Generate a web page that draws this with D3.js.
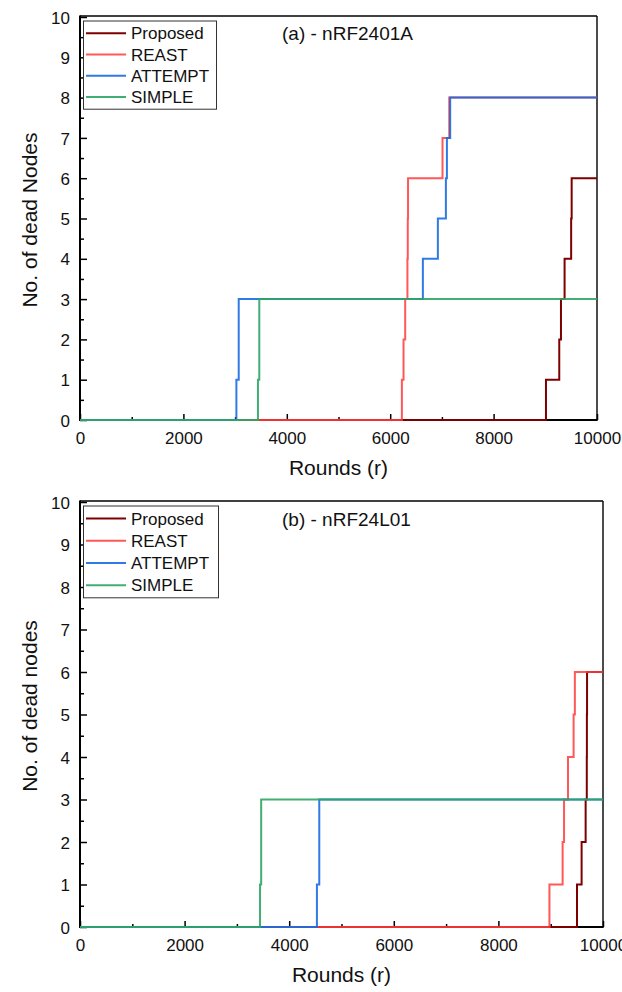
<!DOCTYPE html>
<html>
<head>
<meta charset="utf-8">
<script src="https://cdn.jsdelivr.net/npm/d3@7/dist/d3.min.js"></script>
<style>
  html, body { margin: 0; padding: 0; background: #fff; }
  svg { display: block; font-family: "Liberation Sans", Arial, sans-serif; }
</style>
</head>
<body>
<svg id="chart" width="622" height="992"></svg>
<script>
// Series names and colours (shared by both panels)
const seriesNames = ["Proposed", "REAST", "ATTEMPT", "SIMPLE"];
const seriesColors = ["#7d0000", "#ff3b3b", "#1a6be2", "#2fa564"];
const seriesOpacity = [1, 0.85, 0.9, 0.9];

// Axis ticks
const xTicks = [0, 2000, 4000, 6000, 8000, 10000];
const yTicks = [0, 1, 2, 3, 4, 5, 6, 7, 8, 9, 10];

// Panel (a) nRF2401A: round at which each count of dead nodes is reached
const aProposedRounds = [0, 9013, 9270, 9303, 9373, 9500, 9510, 10000];
const aProposedDead   = [0, 1, 2, 3, 4, 5, 6, 6];
const aReastRounds    = [0, 6226, 6258, 6290, 6333, 6340, 6345, 7012, 7142, 10000];
const aReastDead      = [0, 1, 2, 3, 4, 5, 6, 7, 8, 8];
const aAttemptRounds  = [0, 3025, 3070, 6632, 6922, 7077, 7097, 7160, 10000];
const aAttemptDead    = [0, 1, 3, 4, 5, 6, 7, 8, 8];
const aSimpleRounds   = [0, 3442, 3468, 10000];
const aSimpleDead     = [0, 1, 3, 3];

// Panel (b) nRF24L01
const bProposedRounds = [0, 9503, 9591, 9668, 9690, 9692, 9695, 10000];
const bProposedDead   = [0, 1, 2, 3, 4, 5, 6, 6];
const bReastRounds    = [0, 8976, 9228, 9255, 9331, 9438, 9462, 10000];
const bReastDead      = [0, 1, 2, 3, 4, 5, 6, 6];
const bAttemptRounds  = [0, 4530, 4575, 10000];
const bAttemptDead    = [0, 1, 3, 3];
const bSimpleRounds   = [0, 3442, 3464, 10000];
const bSimpleDead     = [0, 1, 3, 3];

const svg = d3.select("#chart");

function zip(rounds, dead) {
  return rounds.map((r, i) => ({ r: r, d: dead[i] }));
}

function drawPanel(p) {
  const g = svg.append("g");
  const x = d3.scaleLinear().domain([0, 10000]).range([p.left, p.right]);
  const y = d3.scaleLinear().domain([0, 10]).range([p.bottom, p.top]);

  // minor ticks (inward)
  g.append("g")
    .attr("transform", `translate(0,${p.bottom})`)
    .call(d3.axisTop(x).tickValues(d3.range(1000, 10000, 2000)).tickSize(3).tickFormat(""))
    .call(a => a.select(".domain").remove())
    .call(a => a.selectAll("line").attr("stroke", "#000").attr("stroke-width", 1.5));
  g.append("g")
    .attr("transform", `translate(${p.left},0)`)
    .call(d3.axisRight(y).tickValues(d3.range(0.5, 10, 1)).tickSize(4).tickFormat(""))
    .call(a => a.select(".domain").remove())
    .call(a => a.selectAll("line").attr("stroke", "#000").attr("stroke-width", 1.5));

  // major ticks (inward) with labels outside
  const xAxis = g.append("g")
    .attr("transform", `translate(0,${p.bottom})`)
    .call(d3.axisTop(x).tickValues(xTicks).tickSize(6).tickFormat(d3.format("d")));
  xAxis.select(".domain").remove();
  xAxis.selectAll("line").attr("stroke", "#000").attr("stroke-width", 1.5);
  xAxis.selectAll("text")
    .attr("y", 23.5).attr("dy", 0)
    .attr("font-size", 17).attr("fill", "#111")
    .attr("font-family", "'Liberation Sans', Arial, sans-serif");

  const yAxis = g.append("g")
    .attr("transform", `translate(${p.left},0)`)
    .call(d3.axisRight(y).tickValues(yTicks).tickSize(7).tickFormat(d3.format("d")));
  yAxis.select(".domain").remove();
  yAxis.selectAll("line").attr("stroke", "#000").attr("stroke-width", 1.5);
  yAxis.selectAll("text")
    .attr("x", -10).attr("dy", "0.36em")
    .attr("text-anchor", "end")
    .attr("font-size", 17).attr("fill", "#111")
    .attr("font-family", "'Liberation Sans', Arial, sans-serif");

  // frame
  g.append("line")
    .attr("x1", p.left).attr("x2", p.right).attr("y1", p.top - 1).attr("y2", p.top - 1)
    .attr("stroke", "#000").attr("stroke-width", 1.4);
  g.append("line")
    .attr("x1", p.right).attr("x2", p.right).attr("y1", p.top - 1).attr("y2", p.bottom)
    .attr("stroke", "#000").attr("stroke-width", 1.4);
  g.append("line")
    .attr("x1", p.left).attr("x2", p.left).attr("y1", p.top - 1.5).attr("y2", p.bottom + 1)
    .attr("stroke", "#000").attr("stroke-width", 2);
  g.append("line")
    .attr("x1", p.left - 1).attr("x2", p.right + 0.7).attr("y1", p.bottom).attr("y2", p.bottom)
    .attr("stroke", "#000").attr("stroke-width", 2);

  // step lines, drawn over the axis frame
  const line = d3.line()
    .x(d => x(d.r))
    .y(d => y(d.d))
    .curve(d3.curveStepAfter);
  p.series.forEach((s, i) => {
    g.append("path")
      .datum(zip(s[0], s[1]))
      .attr("fill", "none")
      .attr("stroke", seriesColors[i])
      .attr("stroke-opacity", seriesOpacity[i])
      .attr("stroke-width", 2)
      .attr("d", line);
  });

  // legend
  const lg = g.append("g");
  lg.append("rect")
    .attr("x", p.left + 3.5).attr("y", p.legendTop)
    .attr("width", p.legendWidth).attr("height", p.legendRow * 4 + 3)
    .attr("fill", "#fff").attr("stroke", "#333").attr("stroke-width", 1);
  seriesNames.forEach((name, i) => {
    const cy = p.legendTop + p.legendRow * (i + 0.5) + 1.5;
    lg.append("line")
      .attr("x1", p.left + 6).attr("x2", p.left + 46)
      .attr("y1", cy).attr("y2", cy)
      .attr("stroke", seriesColors[i]).attr("stroke-width", 2)
      .attr("stroke-opacity", seriesOpacity[i]);
    lg.append("text")
      .attr("x", p.left + 51).attr("y", cy).attr("dy", "0.36em")
      .attr("font-size", 17).attr("fill", "#111")
      .text(name);
  });

  // panel title
  g.append("text")
    .attr("x", 282).attr("y", p.titleY).attr("dy", "0.36em")
    .attr("font-size", 19).attr("fill", "#111")
    .text(p.title);

  // axis titles
  g.append("text")
    .attr("x", (p.left + p.right) / 2).attr("y", p.bottom + 55)
    .attr("text-anchor", "middle")
    .attr("font-size", 21).attr("fill", "#111")
    .text("Rounds (r)");
  g.append("text")
    .attr("transform", `translate(36.5,${p.yTitleCenter}) rotate(-90)`)
    .attr("text-anchor", "middle")
    .attr("font-size", 21).attr("fill", "#111")
    .text(p.yTitle);
}

drawPanel({
  left: 80, right: 597, top: 17, bottom: 420,
  legendTop: 21, legendWidth: 133, legendRow: 21.3,
  titleY: 33, title: "(a) - nRF2401A",
  yTitle: "No. of dead Nodes", yTitleCenter: 220,
  series: [
    [aProposedRounds, aProposedDead],
    [aReastRounds, aReastDead],
    [aAttemptRounds, aAttemptDead],
    [aSimpleRounds, aSimpleDead]
  ]
});

drawPanel({
  left: 80, right: 603, top: 502, bottom: 927,
  legendTop: 506, legendWidth: 135, legendRow: 22.2,
  titleY: 519, title: "(b) - nRF24L01",
  yTitle: "No. of dead nodes", yTitleCenter: 706,
  series: [
    [bProposedRounds, bProposedDead],
    [bReastRounds, bReastDead],
    [bAttemptRounds, bAttemptDead],
    [bSimpleRounds, bSimpleDead]
  ]
});
</script>
</body>
</html>
